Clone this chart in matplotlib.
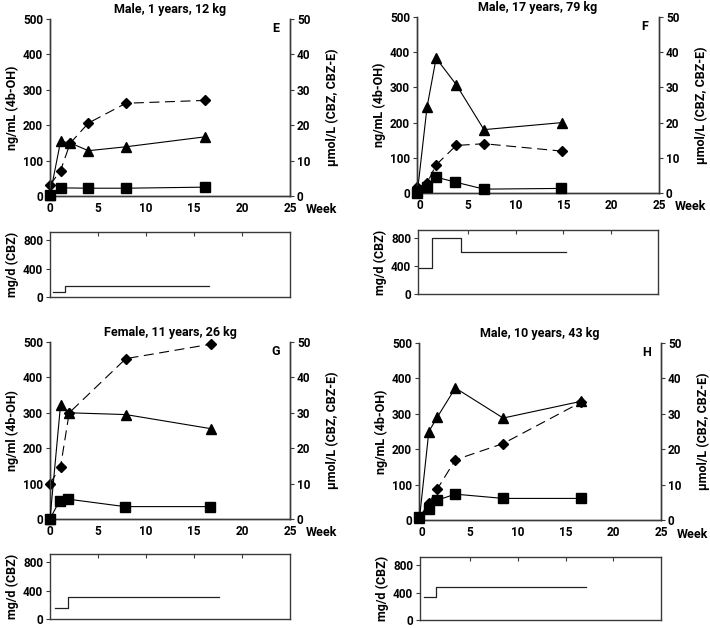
import matplotlib
matplotlib.use("Agg")
import matplotlib.pyplot as plt

plt.rcParams['font.family'] = ['Roboto', 'DejaVu Sans']
plt.rcParams['font.weight'] = 'bold'
plt.rcParams['axes.labelweight'] = 'bold'
plt.rcParams['axes.titleweight'] = 'bold'
plt.rcParams['font.size'] = 8.5

# panel titles / letters
titles = ["Male, 1 years, 12 kg", "Male, 17 years, 79 kg",
          "Female, 11 years, 26 kg", "Male, 10 years, 43 kg"]
letters = ["E", "F", "G", "H"]
left_labels = ["ng/mL (4b-OH)", "ng/mL (4b-OH)", "ng/ml (4b-OH)", "ng/mL (4b-OH)"]

# 4b-OH (ng/mL), diamonds, dashed
oh_weeks = [[0, 1.1, 2.1, 4.0, 7.9, 16.1],
            [-0.25, 0.75, 1.7, 3.8, 6.7, 14.85],
            [0, 1.1, 2.0, 7.9, 16.8],
            [-0.25, 0.73, 1.6, 3.5, 8.5, 16.6]]
oh_vals = [[31, 72, 149, 206, 262, 270],
           [16, 28, 80, 135, 140, 119],
           [100, 148, 300, 453, 494],
           [8, 47, 87, 170, 216, 332]]

# CBZ (umol/L), triangles
cbz_weeks = [[0, 1.1, 2.1, 4.0, 7.9, 16.1],
             [-0.25, 0.75, 1.7, 3.8, 6.7, 14.85],
             [0, 1.1, 2.0, 7.9, 16.8],
             [-0.25, 0.73, 1.6, 3.5, 8.5, 16.6]]
cbz_vals = [[0.3, 15.4, 15.0, 12.8, 13.9, 16.7],
            [0.5, 24.4, 38.3, 30.8, 18.0, 20.0],
            [0, 32.3, 30.0, 29.5, 25.5],
            [0.5, 25.0, 29.0, 37.3, 28.8, 33.5]]

# CBZ-E (umol/L), squares
cbze_weeks = [[0, 1.1, 4.0, 7.9, 16.1],
              [-0.25, 0.75, 1.7, 3.7, 6.7, 14.8],
              [0, 1.0, 1.9, 7.8, 16.7],
              [-0.25, 0.73, 1.6, 3.5, 8.5, 16.6]]
cbze_vals = [[0.3, 2.3, 2.2, 2.2, 2.5],
             [0, 1.7, 4.5, 3.1, 1.1, 1.3],
             [0, 5.2, 5.6, 3.5, 3.5],
             [0.8, 3.2, 5.6, 7.3, 6.1, 6.1]]

# CBZ dose (mg/d), step changes
dose_weeks = [[0.3, 1.6, 16.6],
              [-0.2, 1.2, 4.2, 15.3],
              [0.5, 1.85, 17.6],
              [0.1, 1.35, 17.1]]
dose_vals = [[70, 150, 150],
             [380, 800, 600, 600],
             [160, 310, 310],
             [330, 480, 480]]

xmins = [0, -0.3, 0, -0.3]

W, H = 710, 628
fig = plt.figure(figsize=(7.1, 6.28), dpi=100)


def box(l, t, r, b):
    return [l / W, 1 - b / H, (r - l) / W, (b - t) / H]


def bold_ticks(a):
    for lab in a.get_xticklabels() + a.get_yticklabels():
        lab.set_fontweight('bold')


main_boxes = [(50, 19, 290, 196), (417, 17, 659, 193),
              (50, 342, 290, 519), (419, 343, 661, 520)]
dose_boxes = [(50, 232, 290, 297), (418, 230, 658, 294),
              (50, 554, 290, 619), (420, 557, 661, 620)]

spine_col = '#3a3a3a'

for i in range(4):
    ax = fig.add_axes(box(*main_boxes[i]))
    ax2 = ax.twinx()
    ax.plot(oh_weeks[i], oh_vals[i], color='black', lw=0.8, ls=(0, (9, 5)),
            marker='D', ms=5.5, clip_on=False, zorder=3)
    ax2.plot(cbz_weeks[i], cbz_vals[i], color='black', lw=0.8,
             marker='^', ms=7.5, clip_on=False, zorder=3)
    ax2.plot(cbze_weeks[i], cbze_vals[i], color='black', lw=0.8,
             marker='s', ms=7, clip_on=False, zorder=3)
    ax.set_xlim(xmins[i], 25)
    ax.set_ylim(0, 500)
    ax2.set_ylim(0, 50)
    ax.set_xticks([0, 5, 10, 15, 20, 25])
    ax.set_yticks([0, 100, 200, 300, 400, 500])
    ax2.set_yticks([0, 10, 20, 30, 40, 50])
    for a in (ax, ax2):
        for s in a.spines.values():
            s.set_color(spine_col)
            s.set_linewidth(1.0)
        a.tick_params(length=3, width=0.8, color=spine_col, pad=2)
        bold_ticks(a)
    ax.spines['top'].set_visible(False)
    ax2.spines['top'].set_visible(False)
    ax.tick_params(axis='x', length=0, pad=4)
    ax.set_title(titles[i], fontsize=9, fontweight='bold', pad=4)
    ax.set_ylabel(left_labels[i], fontsize=9, fontweight='bold', labelpad=3)
    ax2.set_ylabel("µmol/L (CBZ, CBZ-E)", fontsize=9, fontweight='bold',
                   labelpad=11)
    ax.text(0.94, 0.945, letters[i], transform=ax.transAxes,
            ha='center', va='center', fontsize=9, fontweight='bold')
    ax.annotate("Week", xy=(1, 0), xycoords='axes fraction',
                xytext=(16, -14), textcoords='offset pixels',
                ha='left', va='center', fontsize=9, fontweight='bold')

    dx = fig.add_axes(box(*dose_boxes[i]))
    dx.plot(dose_weeks[i], dose_vals[i], color='#222222', lw=0.9,
            drawstyle='steps-post')
    dx.set_xlim(xmins[i], 25)
    dx.set_ylim(0, 920)
    dx.set_yticks([0, 400, 800])
    dx.set_xticks([5, 10, 15, 20])
    for s in dx.spines.values():
        s.set_color(spine_col)
        s.set_linewidth(1.0)
    dx.tick_params(axis='x', top=True, bottom=False, labelbottom=False,
                   direction='in', length=3, color=spine_col)
    dx.tick_params(axis='y', length=3, width=0.8, color=spine_col, pad=2)
    bold_ticks(dx)
    dx.set_ylabel("mg/d (CBZ)", fontsize=9, fontweight='bold', labelpad=3)

fig.savefig("out.png", dpi=100)
